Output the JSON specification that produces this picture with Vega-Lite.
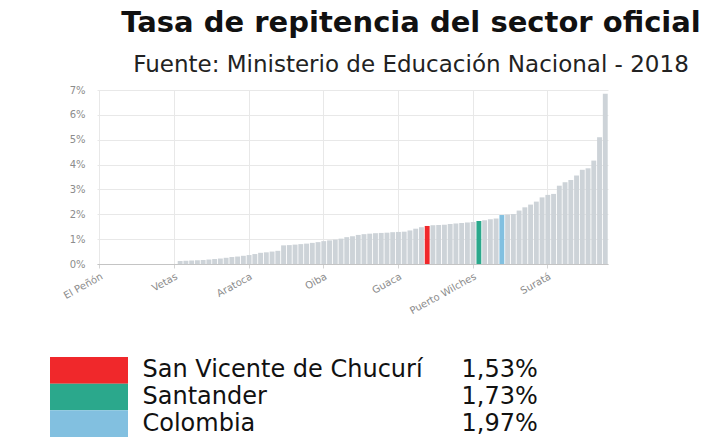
{
  "$schema": "https://vega.github.io/schema/vega-lite/v6.json",
  "background": "white",
  "padding": {"left": 50, "top": 9, "right": 5, "bottom": 5},
  "config": {"view": {"stroke": null}, "font": "DejaVu Sans"},
  "title": {
    "text": "Tasa de repitencia del sector oficial",
    "subtitle": "Fuente: Ministerio de Educación Nacional - 2018",
    "font": "DejaVu Sans", "fontSize": 29, "fontWeight": "bold", "color": "#111111",
    "subtitleFont": "DejaVu Sans", "subtitleFontSize": 23, "subtitleColor": "#222222",
    "subtitlePadding": 16, "anchor": "middle", "dx": 82, "offset": 8
  },
  "datasets": {
    "tasas": [
      {"nombre": "El Peñón", "tasa": 0},
      {"nombre": "Aguada", "tasa": 0},
      {"nombre": "Albania", "tasa": 0},
      {"nombre": "Barbosa", "tasa": 0},
      {"nombre": "Barichara", "tasa": 0},
      {"nombre": "Barrancabermeja", "tasa": 0},
      {"nombre": "Betulia", "tasa": 0},
      {"nombre": "Bolívar", "tasa": 0},
      {"nombre": "Bucaramanga", "tasa": 0},
      {"nombre": "Cabrera", "tasa": 0},
      {"nombre": "California", "tasa": 0},
      {"nombre": "Capitanejo", "tasa": 0},
      {"nombre": "Carcasí", "tasa": 0},
      {"nombre": "Vetas", "tasa": 0},
      {"nombre": "Cepitá", "tasa": 0.0012},
      {"nombre": "Cerrito", "tasa": 0.0013},
      {"nombre": "Charalá", "tasa": 0.0014},
      {"nombre": "Charta", "tasa": 0.0015},
      {"nombre": "Chima", "tasa": 0.0016},
      {"nombre": "Chipatá", "tasa": 0.0018},
      {"nombre": "Cimitarra", "tasa": 0.002},
      {"nombre": "Concepción", "tasa": 0.0022},
      {"nombre": "Confines", "tasa": 0.0025},
      {"nombre": "Contratación", "tasa": 0.0028},
      {"nombre": "Coromoro", "tasa": 0.003},
      {"nombre": "Curití", "tasa": 0.0033},
      {"nombre": "Aratoca", "tasa": 0.0036},
      {"nombre": "El Carmen de Chucurí", "tasa": 0.004},
      {"nombre": "El Guacamayo", "tasa": 0.0045},
      {"nombre": "El Playón", "tasa": 0.0047},
      {"nombre": "Encino", "tasa": 0.005},
      {"nombre": "Enciso", "tasa": 0.0053},
      {"nombre": "Florián", "tasa": 0.0075},
      {"nombre": "Floridablanca", "tasa": 0.0076},
      {"nombre": "Galán", "tasa": 0.0078},
      {"nombre": "Gámbita", "tasa": 0.008},
      {"nombre": "Girón", "tasa": 0.0082},
      {"nombre": "Guadalupe", "tasa": 0.0085},
      {"nombre": "Guapotá", "tasa": 0.0088},
      {"nombre": "Oiba", "tasa": 0.0092},
      {"nombre": "Guavatá", "tasa": 0.0095},
      {"nombre": "Güepsa", "tasa": 0.0098},
      {"nombre": "Hato", "tasa": 0.0102},
      {"nombre": "Jesús María", "tasa": 0.0108},
      {"nombre": "Jordán", "tasa": 0.0112},
      {"nombre": "La Belleza", "tasa": 0.0117},
      {"nombre": "La Paz", "tasa": 0.012},
      {"nombre": "Landázuri", "tasa": 0.0122},
      {"nombre": "Lebrija", "tasa": 0.0124},
      {"nombre": "Los Santos", "tasa": 0.0125},
      {"nombre": "Macaravita", "tasa": 0.0126},
      {"nombre": "Málaga", "tasa": 0.0128},
      {"nombre": "Guaca", "tasa": 0.0129},
      {"nombre": "Matanza", "tasa": 0.013},
      {"nombre": "Mogotes", "tasa": 0.0135},
      {"nombre": "Molagavita", "tasa": 0.0142},
      {"nombre": "Ocamonte", "tasa": 0.0148},
      {"nombre": "San Vicente de Chucurí", "tasa": 0.0153},
      {"nombre": "Onzaga", "tasa": 0.0156},
      {"nombre": "Palmar", "tasa": 0.0157},
      {"nombre": "Palmas del Socorro", "tasa": 0.0158},
      {"nombre": "Páramo", "tasa": 0.0161},
      {"nombre": "Piedecuesta", "tasa": 0.0163},
      {"nombre": "Pinchote", "tasa": 0.0165},
      {"nombre": "Puente Nacional", "tasa": 0.0167},
      {"nombre": "Puerto Wilches", "tasa": 0.0169},
      {"nombre": "Santander", "tasa": 0.0173},
      {"nombre": "Puerto Parra", "tasa": 0.0176},
      {"nombre": "Rionegro", "tasa": 0.018},
      {"nombre": "Sabana de Torres", "tasa": 0.0183},
      {"nombre": "Colombia", "tasa": 0.0197},
      {"nombre": "San Andrés", "tasa": 0.0199},
      {"nombre": "San Benito", "tasa": 0.0201},
      {"nombre": "San Gil", "tasa": 0.0215},
      {"nombre": "San Joaquín", "tasa": 0.0228},
      {"nombre": "San José de Miranda", "tasa": 0.0239},
      {"nombre": "San Miguel", "tasa": 0.0251},
      {"nombre": "Santa Bárbara", "tasa": 0.0268},
      {"nombre": "Suratá", "tasa": 0.0278},
      {"nombre": "Santa Helena del Opón", "tasa": 0.0282},
      {"nombre": "Simacota", "tasa": 0.0315},
      {"nombre": "Socorro", "tasa": 0.0329},
      {"nombre": "Suaita", "tasa": 0.0338},
      {"nombre": "Sucre", "tasa": 0.0356},
      {"nombre": "Tona", "tasa": 0.0379},
      {"nombre": "Valle de San José", "tasa": 0.0385},
      {"nombre": "Vélez", "tasa": 0.0416},
      {"nombre": "Villanueva", "tasa": 0.051},
      {"nombre": "Zapatoca", "tasa": 0.0685}
    ]
  },
  "data": {"name": "tasas"},
  "spacing": 41,
  "vconcat": [
    {
      "width": 511,
      "height": 174,
      "mark": {"type": "bar"},
      "encoding": {
        "x": {
          "field": "nombre", "type": "nominal", "sort": null,
          "scale": {"paddingInner": 0.15, "paddingOuter": 0.05},
          "axis": {
            "values": ["El Peñón", "Vetas", "Aratoca", "Oiba", "Guaca", "Puerto Wilches", "Suratá"],
            "labelAngle": -29, "labelFontSize": 10, "labelColor": "#8c8c8c",
            "grid": true, "gridColor": "#e8e8e8", "domainColor": "#c4c4c4",
            "tickColor": "#d4d4d4", "tickSize": 4, "labelPadding": 3, "title": null
          }
        },
        "y": {
          "field": "tasa", "type": "quantitative",
          "scale": {"domain": [0, 0.07]},
          "axis": {
            "values": [0, 0.01, 0.02, 0.03, 0.04, 0.05, 0.06, 0.07],
            "format": ".0%", "labelFontSize": 10, "labelColor": "#8c8c8c",
            "domain": false, "ticks": false, "labelPadding": 12,
            "gridColor": "#e8e8e8", "title": null, "minExtent": 47
          }
        },
        "color": {
          "condition": [
            {"test": "datum.nombre === 'San Vicente de Chucurí'", "value": "#f0282b"},
            {"test": "datum.nombre === 'Santander'", "value": "#2ba88c"},
            {"test": "datum.nombre === 'Colombia'", "value": "#82c0e0"}
          ],
          "value": "#cdd3d8"
        }
      }
    },
    {
      "width": 31,
      "height": 80,
      "transform": [
        {"filter": {"field": "nombre", "oneOf": ["San Vicente de Chucurí", "Santander", "Colombia"]}},
        {"calculate": "replace(format(datum.tasa, '.2%'), '.', ',')", "as": "valor"}
      ],
      "layer": [
        {
          "mark": {"type": "rect"},
          "encoding": {
            "x": {"datum": 0, "type": "quantitative", "scale": {"domain": [0, 1], "range": [-47, 31], "nice": false, "zero": false}, "axis": null},
            "x2": {"datum": 1},
            "y": {
              "field": "nombre", "type": "nominal", "sort": null,
              "scale": {"paddingInner": 0, "paddingOuter": 0},
              "axis": {
                "orient": "right", "title": null, "domain": false, "ticks": false, "tickSize": 0,
                "labelPadding": 14, "labelFontSize": 24, "labelColor": "#111111",
                "labelLimit": 400, "grid": false
              }
            },
            "color": {
              "condition": [
                {"test": "datum.nombre === 'San Vicente de Chucurí'", "value": "#f0282b"},
                {"test": "datum.nombre === 'Santander'", "value": "#2ba88c"},
                {"test": "datum.nombre === 'Colombia'", "value": "#82c0e0"}
              ],
              "value": "#cdd3d8"
            }
          }
        },
        {
          "mark": {"type": "rect", "opacity": 0},
          "encoding": {
            "x": {"datum": 0, "type": "quantitative"},
            "x2": {"datum": 1},
            "y": {
              "field": "valor", "type": "nominal", "sort": null,
              "scale": {"paddingInner": 0, "paddingOuter": 0},
              "axis": {
                "orient": "right", "offset": 327, "title": null, "domain": false, "ticks": false, "tickSize": 0,
                "labelPadding": 6, "labelFontSize": 24, "labelColor": "#111111",
                "labelLimit": 200, "grid": false
              }
            }
          }
        }
      ],
      "resolve": {"scale": {"y": "independent"}, "axis": {"y": "independent"}}
    }
  ]
}
